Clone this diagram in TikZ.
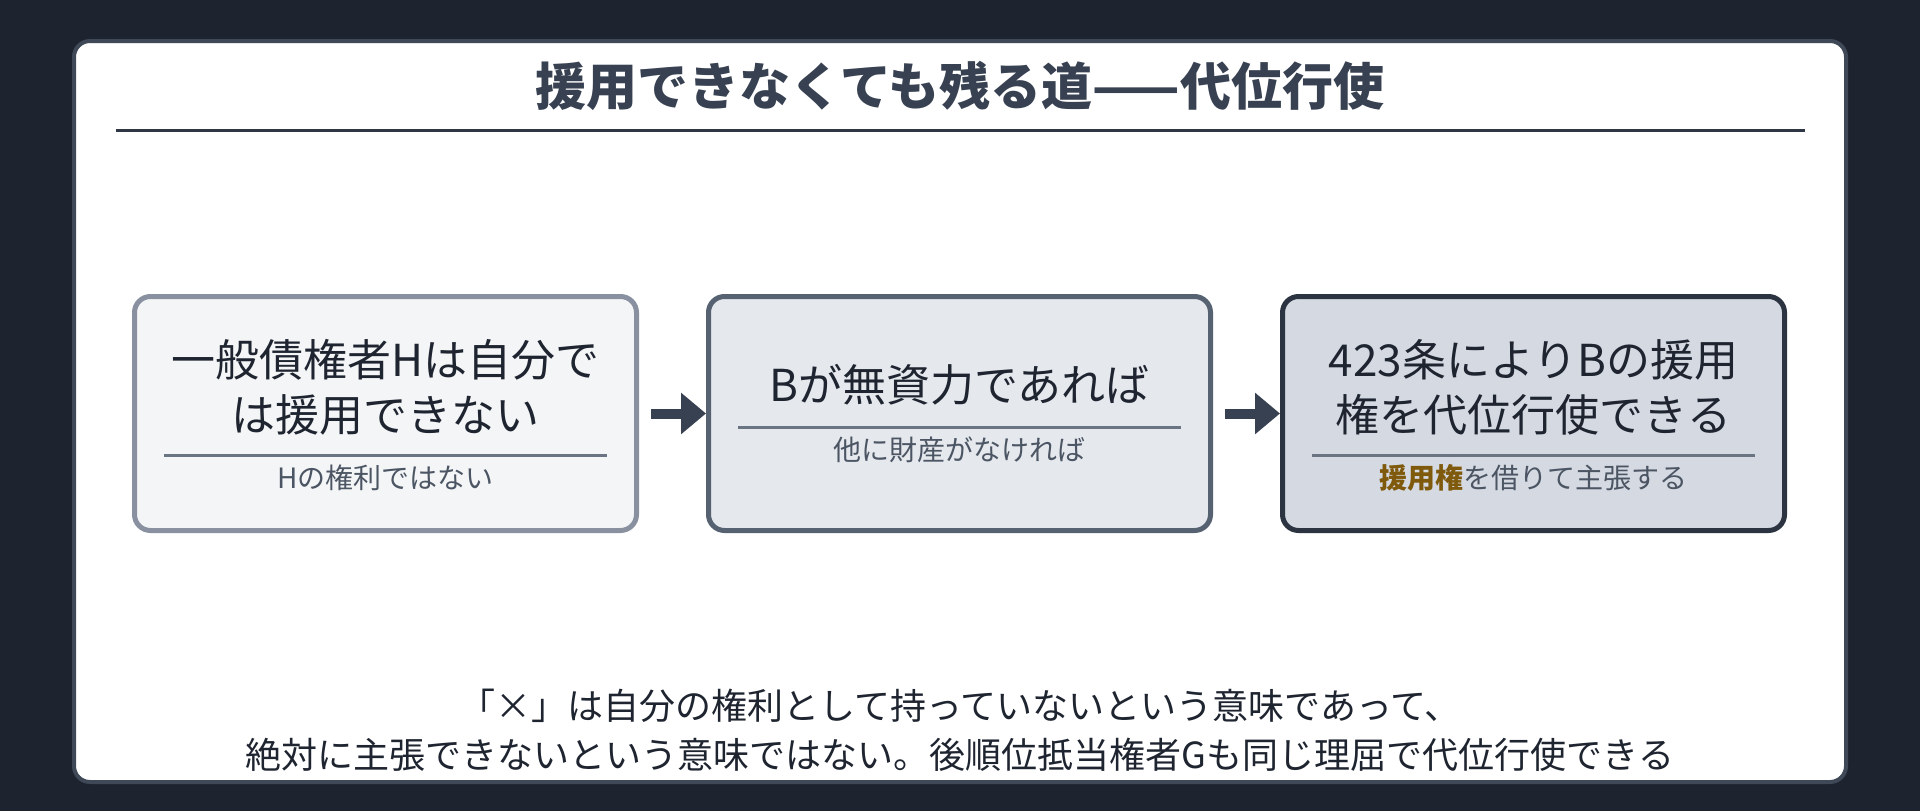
\documentclass[tikz,border=0pt]{standalone}
\usepackage{fontspec}
\setmainfont{Noto Sans CJK JP}
\usetikzlibrary{arrows.meta,positioning}

\definecolor{bgdark}{HTML}{1E242F}
\definecolor{cardline}{HTML}{3F4856}
\definecolor{titlec}{HTML}{374151}
\definecolor{titlerule}{HTML}{2F3744}
\definecolor{boxafill}{HTML}{F4F5F7}
\definecolor{boxaline}{HTML}{8991A1}
\definecolor{boxbfill}{HTML}{E5E8ED}
\definecolor{boxbline}{HTML}{566171}
\definecolor{boxcfill}{HTML}{D5DAE2}
\definecolor{boxcline}{HTML}{2D3441}
\definecolor{sepc}{HTML}{6B7482}
\definecolor{mainc}{HTML}{1F2530}
\definecolor{subc}{HTML}{4B5563}
\definecolor{accent}{HTML}{7F5A0C}
\definecolor{arrowc}{HTML}{374151}

\begin{document}
\begin{tikzpicture}[x=1pt,y=-1pt,>={Triangle[width=40pt,length=25pt]},
                    node distance=67pt,
                    box/.style={rectangle,rounded corners=16pt,line width=5pt,
                                minimum width=502pt,minimum height=234pt},
                    title/.style={text=titlec,font=\fontsize{51}{60}\selectfont\bfseries},
                    maintext/.style={align=center,text=mainc,font=\fontsize{44}{55}\selectfont},
                    subtext/.style={text=subc,font=\fontsize{28}{34}\selectfont},
                    note/.style={align=center,text=mainc,font=\fontsize{36}{49}\selectfont},
                    sepline/.style={draw=sepc,line width=3pt},
                    flow/.style={->,draw=arrowc,line width=10pt,shorten <=12pt}]

  \useasboundingbox[fill=bgdark] (0,0) rectangle (1920,811);
  \draw[draw=cardline,fill=white,line width=4pt,rounded corners=16pt]
       (74,41) rectangle (1846,782);

  \node[title] (title) at (960,85.5) {援用できなくても残る道——代位行使};
  \draw[draw=titlerule,line width=3pt] (116,130) -- (1805,130);

  \node[box,draw=boxaline,fill=boxafill] (b1) at (385.5,413.5) {};
  \node[box,draw=boxbline,fill=boxbfill] (b2) [right=of b1]    {};
  \node[box,draw=boxcline,fill=boxcfill] (b3) [right=of b2]    {};

  \node[maintext] (m1) at ([yshift=26pt]b1.center)    {一般債権者Hは自分で\\は援用できない};
  \node[maintext] (m2) at ([yshift=28.5pt]b2.center)  {Bが無資力であれば};
  \node[maintext] (m3) at ([yshift=26pt]b3.center)    {423条によりBの援用\\権を代位行使できる};

  \draw[sepline] ([xshift=32pt,yshift=-41.5pt]b1.west) -- ([xshift=-32pt,yshift=-41.5pt]b1.east);
  \draw[sepline] ([xshift=32pt,yshift=-13.5pt]b2.west) -- ([xshift=-32pt,yshift=-13.5pt]b2.east);
  \draw[sepline] ([xshift=32pt,yshift=-41.5pt]b3.west) -- ([xshift=-32pt,yshift=-41.5pt]b3.east);

  \node[subtext] (s1) at ([yshift=-64.5pt]b1.center) {Hの権利ではない};
  \node[subtext] (s2) at ([yshift=-36.5pt]b2.center) {他に財産がなければ};
  \node[subtext] (s3) at ([yshift=-64.5pt]b3.center) {{\bfseries\color{accent}援用権}を借りて主張する};

  \draw[flow] (b1) -- (b2);
  \draw[flow] (b2) -- (b3);

  \node[note] (note) at (960,730.5)
       {「×」は自分の権利として持っていないという意味であって、\\絶対に主張できないという意味ではない。後順位抵当権者Gも同じ理屈で代位行使できる};
\end{tikzpicture}
\end{document}
